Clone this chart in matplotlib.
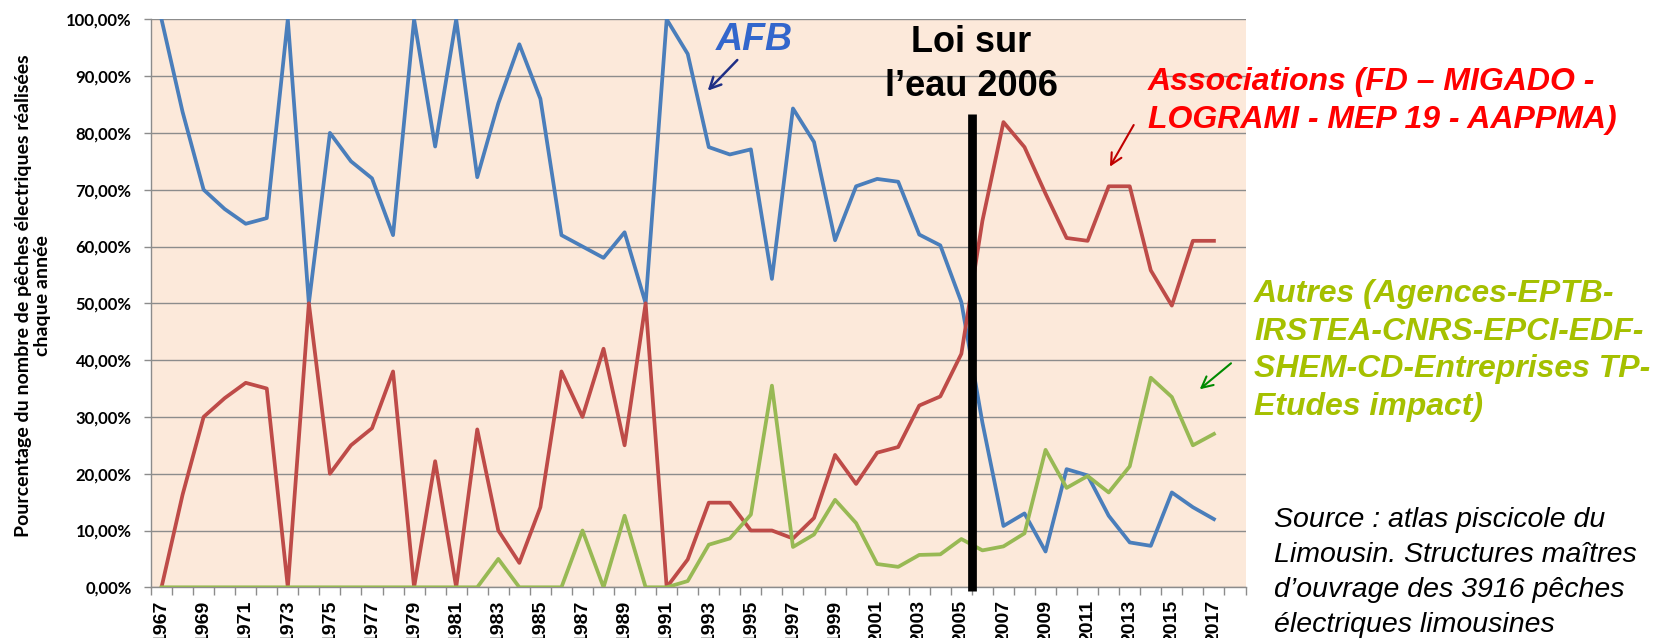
import matplotlib
matplotlib.use("Agg")
import matplotlib.pyplot as plt

# ------------------------------------------
# data (%)
# ------------------------------------------
years = list(range(1967, 2018))

afb = [100, 83.7, 70, 66.6, 64, 65, 100, 50, 80, 75,
       72, 62, 100, 77.6, 100, 72.2, 85.2, 95.6, 86, 62,
       60, 58, 62.5, 50, 100, 93.9, 77.5, 76.2, 77.1, 54.3,
       84.3, 78.4, 61.1, 70.6, 71.9, 71.4, 62.1, 60.2, 50.2, 29,
       10.8, 13, 6.3, 20.8, 19.7, 12.6, 7.9, 7.3, 16.7, 14.1, 12]

associations = [0, 16.3, 30, 33.3, 36, 35, 0, 50, 20, 25,
                28, 38, 0, 22.2, 0, 27.8, 10, 4.3, 14.1, 38,
                30, 42, 25, 50, 0, 4.9, 14.9, 14.9, 10, 10,
                8.6, 12.2, 23.3, 18.2, 23.7, 24.7, 32, 33.6, 41.1, 64.5,
                81.9, 77.5, 69.3, 61.5, 61, 70.6, 70.6, 55.8, 49.6, 61, 61]

autres = [0, 0, 0, 0, 0, 0, 0, 0, 0, 0,
          0, 0, 0, 0, 0, 0, 5, 0, 0, 0,
          10, 0, 12.6, 0, 0, 1.1, 7.5, 8.6, 12.8, 35.5,
          7.1, 9.3, 15.4, 11.3, 4.1, 3.6, 5.7, 5.8, 8.5, 6.5,
          7.2, 9.5, 24.2, 17.5, 19.6, 16.7, 21.3, 36.9, 33.5, 25, 27]

ytick_values = [0, 10, 20, 30, 40, 50, 60, 70, 80, 90, 100]
ytick_labels = ["0,00%", "10,00%", "20,00%", "30,00%", "40,00%", "50,00%",
                "60,00%", "70,00%", "80,00%", "90,00%", "100,00%"]
xtick_years = list(range(1967, 2018, 2))
loi_year = 2005.5

ylabel = "Pourcentage du nombre de pêches électriques réalisées\nchaque année"

# ------------------------------------------
# figure
# ------------------------------------------
W, H = 1655, 638
fig = plt.figure(figsize=(W / 100, H / 100), dpi=100)
fig.patch.set_facecolor("white")


def px(x, y):
    # pixel position (top-left origin) -> figure fraction
    return (x / W, 1 - y / H)


ax = fig.add_axes([151 / W, (H - 587.3) / H, 1094.5 / W, 568 / H])
ax.set_facecolor("#FCE9DA")

ax.plot(years, afb, color="#4A7EBB", lw=2.7, zorder=3)
ax.plot(years, associations, color="#BE4B48", lw=2.7, zorder=4)
ax.plot(years, autres, color="#98B954", lw=2.7, zorder=5)

# loi sur l'eau marker
ax.plot([loi_year, loi_year], [83.4, -0.6], color="black", lw=6.3,
        solid_capstyle="butt", zorder=6, clip_on=False)

ax.set_xlim(1966.5, 2018.5)
ax.set_ylim(0, 100)

ax.set_yticks(ytick_values)
ax.set_yticklabels(ytick_labels)
ax.yaxis.grid(True, color="#8C8C8C", lw=1.0)
ax.set_axisbelow(True)
ax.tick_params(axis="y", length=5, width=1, color="#8C8C8C", pad=9)
for lab in ax.get_yticklabels():
    lab.set_fontfamily("Lato")
    lab.set_fontweight("bold")
    lab.set_fontsize(12)

# tick marks between categories, labels on every second year
ax.set_xticks([y + 0.5 for y in range(1966, 2019)])
ax.set_xticklabels([])
ax.set_xticks(xtick_years, minor=True)
ax.set_xticklabels([str(y) for y in xtick_years], minor=True, rotation=90,
                   fontfamily="Liberation Sans", fontweight="bold", fontsize=14)
ax.tick_params(axis="x", which="major", length=6, width=1, color="#8C8C8C")
ax.tick_params(axis="x", which="minor", length=0, pad=9)

for s in ["top", "right"]:
    ax.spines[s].set_visible(False)
for s in ["left", "bottom"]:
    ax.spines[s].set_color("#8C8C8C")
    ax.spines[s].set_linewidth(1)

fig.text(*px(33, 296), ylabel, rotation=90, ha="center", va="center",
         multialignment="center", fontfamily="Lato", fontweight="bold",
         fontsize=14, linespacing=1.15)

# ------------------------------------------
# annotations
# ------------------------------------------
fig.text(*px(716, 50), "AFB", ha="left", va="baseline", color="#3366CC",
         fontfamily="Liberation Sans", fontweight="bold", fontstyle="italic",
         fontsize=27)
ax.annotate("", xy=px(707.7, 90.7), xycoords="figure fraction",
            xytext=px(737.3, 60), textcoords="figure fraction",
            arrowprops=dict(arrowstyle="->", color="#1F2F86", lw=1.8,
                            mutation_scale=20, shrinkA=0, shrinkB=0),
            annotation_clip=False)

fig.text(*px(971, 52), "Loi sur", ha="center", va="baseline", color="black",
         fontfamily="Liberation Sans", fontweight="bold", fontsize=26)
fig.text(*px(971, 96), "l\u2019eau 2006", ha="center", va="baseline",
         color="black", fontfamily="Liberation Sans", fontweight="bold",
         fontsize=26)

assoc_lines = ["Associations (FD \u2013 MIGADO -",
               "LOGRAMI - MEP 19 - AAPPMA)"]
for i, line in enumerate(assoc_lines):
    fig.text(*px(1148, 90 + 38 * i), line, ha="left", va="baseline",
             color="#FF0000", fontfamily="Liberation Sans", fontweight="bold",
             fontstyle="italic", fontsize=23)
ax.annotate("", xy=px(1109.9, 166.7), xycoords="figure fraction",
            xytext=px(1133.7, 125), textcoords="figure fraction",
            arrowprops=dict(arrowstyle="->", color="#C00000", lw=1.5,
                            mutation_scale=20, shrinkA=0, shrinkB=0),
            annotation_clip=False)

autres_lines = ["Autres (Agences-EPTB-", "IRSTEA-CNRS-EPCI-EDF-",
                "SHEM-CD-Entreprises TP-", "Etudes impact)"]
for i, line in enumerate(autres_lines):
    fig.text(*px(1254, 302 + 37.7 * i), line, ha="left", va="baseline",
             color="#A5C000", fontfamily="Liberation Sans", fontweight="bold",
             fontstyle="italic", fontsize=23)
ax.annotate("", xy=px(1199.7, 389.3), xycoords="figure fraction",
            xytext=px(1231, 363.3), textcoords="figure fraction",
            arrowprops=dict(arrowstyle="->", color="#008A00", lw=1.5,
                            mutation_scale=20, shrinkA=0, shrinkB=0),
            annotation_clip=False)

source_lines = ["Source : atlas piscicole du",
                "Limousin. Structures ma\u00eetres",
                "d\u2019ouvrage des 3916 p\u00eaches",
                "\u00e9lectriques limousines"]
for i, line in enumerate(source_lines):
    fig.text(*px(1274, 527 + 35 * i), line, ha="left", va="baseline",
             color="black", fontfamily="Liberation Sans", fontstyle="italic",
             fontsize=20.5)

fig.savefig("out.png", dpi=100)
